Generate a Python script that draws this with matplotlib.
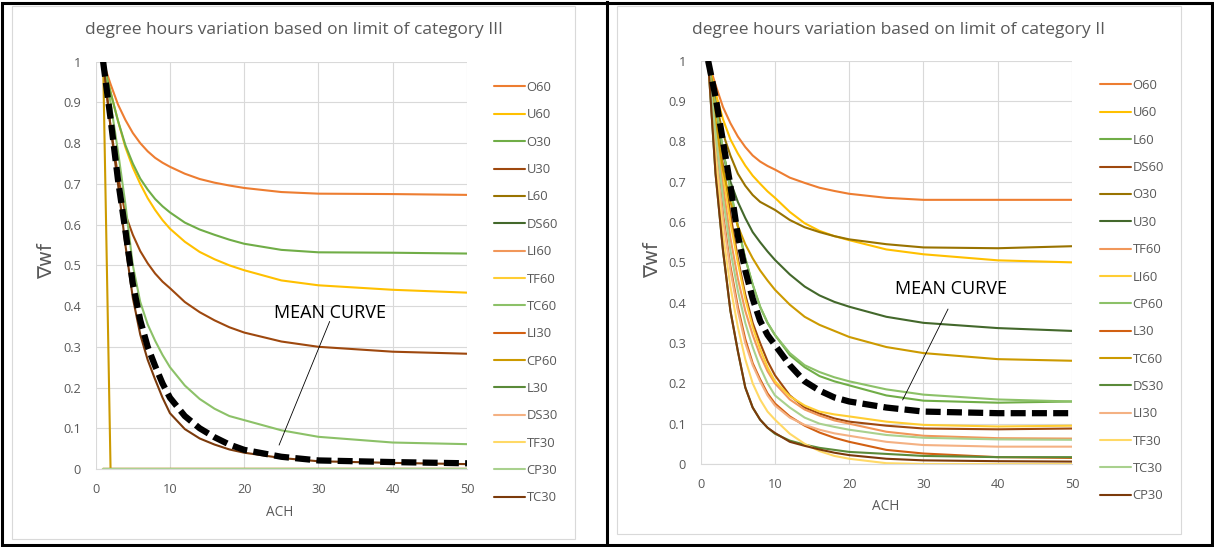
import matplotlib
matplotlib.use("Agg")
import matplotlib.pyplot as plt
from matplotlib.patches import Rectangle

plt.rcParams['font.family'] = ['Open Sans', 'DejaVu Sans']

W, H = 1214, 547

# ACH values where the weighting factor was evaluated
ach = [1, 2, 3, 4, 5, 6, 7, 8, 9, 10, 12, 14, 16, 18, 20, 25, 30, 40, 50]

# series colours, same order in both charts
colors = ["#ED7D31", "#FFC000", "#70AD47", "#9E480E", "#997300", "#43682B",
          "#F1975A", "#FFCD33", "#8CC168", "#D26012", "#CC9A00", "#5A8A39",
          "#F4B183", "#FFD966", "#A9D18E", "#7B3A0B"]

# ---- category III ----
c3_names = ["O60", "U60", "O30", "U30", "L60", "DS60", "LI60", "TF60",
            "TC60", "LI30", "CP60", "L30", "DS30", "TF30", "CP30", "TC30"]
c3_o60 = [1.0, 0.945, 0.895, 0.857, 0.825, 0.80, 0.78, 0.764, 0.752, 0.742,
          0.725, 0.712, 0.703, 0.696, 0.69, 0.68, 0.676, 0.675, 0.673]
c3_u60 = [1.0, 0.925, 0.855, 0.79, 0.74, 0.70, 0.665, 0.636, 0.611, 0.59,
          0.558, 0.533, 0.515, 0.50, 0.488, 0.463, 0.451, 0.44, 0.433]
c3_o30 = [1.0, 0.925, 0.855, 0.795, 0.75, 0.713, 0.686, 0.663, 0.645, 0.63,
          0.605, 0.588, 0.575, 0.563, 0.553, 0.538, 0.532, 0.531, 0.529]
c3_u30 = [1.0, 0.84, 0.72, 0.625, 0.575, 0.535, 0.505, 0.48, 0.46, 0.444,
          0.41, 0.385, 0.365, 0.348, 0.335, 0.313, 0.30, 0.288, 0.283]
c3_tc60 = [1.0, 0.90, 0.78, 0.65, 0.50, 0.41, 0.355, 0.315, 0.28, 0.25,
           0.205, 0.172, 0.148, 0.13, 0.12, 0.095, 0.079, 0.065, 0.061]
c3_cp60 = [1.0, 0, 0, 0, 0, 0, 0, 0, 0, 0, 0, 0, 0, 0, 0, 0, 0, 0, 0]
c3_tc30 = [1.0, 0.84, 0.70, 0.55, 0.42, 0.33, 0.268, 0.22, 0.175, 0.137,
           0.098, 0.075, 0.06, 0.048, 0.04, 0.027, 0.019, 0.015, 0.012]
c3_zero = [0, 0, 0, 0, 0, 0, 0, 0, 0, 0, 0, 0, 0, 0, 0, 0, 0, 0, 0]
c3_mean = [1.0, 0.86, 0.71, 0.585, 0.455, 0.365, 0.30, 0.253, 0.21, 0.175,
           0.13, 0.10, 0.078, 0.06, 0.047, 0.03, 0.021, 0.017, 0.014]
c3_series = [c3_o60, c3_u60, c3_o30, c3_u30, c3_zero, c3_zero, c3_zero,
             c3_zero, c3_tc60, c3_zero, c3_cp60, c3_zero, c3_zero, c3_zero,
             c3_zero, c3_tc30]

# ---- category II ----
c2_names = ["O60", "U60", "L60", "DS60", "O30", "U30", "TF60", "LI60",
            "CP60", "L30", "TC60", "DS30", "LI30", "TF30", "TC30", "CP30"]
c2_o60 = [1.0, 0.94, 0.885, 0.845, 0.812, 0.786, 0.765, 0.75, 0.739, 0.73,
          0.71, 0.697, 0.685, 0.677, 0.67, 0.66, 0.655, 0.655, 0.655]
c2_u60 = [1.0, 0.92, 0.855, 0.805, 0.77, 0.74, 0.715, 0.695, 0.676, 0.66,
          0.625, 0.597, 0.578, 0.565, 0.555, 0.532, 0.52, 0.505, 0.50]
c2_l60 = [1.0, 0.89, 0.78, 0.68, 0.59, 0.51, 0.445, 0.39, 0.35, 0.32,
          0.27, 0.24, 0.218, 0.205, 0.195, 0.17, 0.157, 0.152, 0.155]
c2_ds60 = [1.0, 0.87, 0.74, 0.62, 0.51, 0.42, 0.35, 0.30, 0.255, 0.22,
           0.17, 0.14, 0.125, 0.113, 0.105, 0.095, 0.088, 0.086, 0.088]
c2_o30 = [1.0, 0.90, 0.82, 0.765, 0.72, 0.69, 0.667, 0.65, 0.64, 0.63,
          0.605, 0.587, 0.575, 0.565, 0.557, 0.545, 0.537, 0.535, 0.54]
c2_u30 = [1.0, 0.88, 0.77, 0.70, 0.65, 0.61, 0.575, 0.55, 0.527, 0.506,
          0.47, 0.44, 0.418, 0.402, 0.39, 0.365, 0.35, 0.337, 0.33]
c2_tf60 = [1.0, 0.84, 0.69, 0.56, 0.46, 0.38, 0.32, 0.27, 0.23, 0.20,
           0.16, 0.135, 0.12, 0.108, 0.10, 0.08, 0.07, 0.064, 0.063]
c2_li60 = [1.0, 0.86, 0.72, 0.60, 0.50, 0.41, 0.34, 0.285, 0.24, 0.205,
           0.168, 0.145, 0.13, 0.123, 0.118, 0.105, 0.097, 0.093, 0.095]
c2_cp60 = [1.0, 0.89, 0.78, 0.68, 0.59, 0.51, 0.445, 0.39, 0.35, 0.32,
           0.275, 0.245, 0.228, 0.215, 0.205, 0.185, 0.172, 0.16, 0.155]
c2_l30 = [1.0, 0.80, 0.62, 0.49, 0.39, 0.31, 0.25, 0.21, 0.175, 0.15,
          0.118, 0.095, 0.078, 0.065, 0.055, 0.035, 0.026, 0.017, 0.015]
c2_tc60 = [1.0, 0.85, 0.73, 0.65, 0.59, 0.545, 0.51, 0.48, 0.455, 0.432,
           0.395, 0.365, 0.345, 0.33, 0.315, 0.29, 0.275, 0.26, 0.256]
c2_ds30 = [1.0, 0.72, 0.53, 0.38, 0.28, 0.19, 0.14, 0.11, 0.09, 0.075,
           0.058, 0.048, 0.04, 0.035, 0.03, 0.025, 0.02, 0.017, 0.017]
c2_li30 = [1.0, 0.78, 0.61, 0.48, 0.38, 0.30, 0.245, 0.205, 0.17, 0.145,
           0.115, 0.097, 0.085, 0.076, 0.07, 0.055, 0.047, 0.043, 0.043]
c2_tf30 = [1.0, 0.76, 0.57, 0.44, 0.34, 0.26, 0.20, 0.16, 0.13, 0.11,
           0.075, 0.05, 0.032, 0.02, 0.013, 0.002, 0.0, 0.0, 0.0]
c2_tc30 = [1.0, 0.82, 0.66, 0.53, 0.43, 0.35, 0.29, 0.24, 0.20, 0.17,
           0.14, 0.115, 0.10, 0.092, 0.085, 0.072, 0.065, 0.061, 0.06]
c2_cp30 = [1.0, 0.72, 0.53, 0.38, 0.28, 0.19, 0.14, 0.11, 0.09, 0.077,
           0.055, 0.045, 0.036, 0.028, 0.022, 0.013, 0.009, 0.007, 0.006]
c2_mean = [1.0, 0.91, 0.80, 0.69, 0.567, 0.48, 0.41, 0.355, 0.32, 0.295,
           0.245, 0.205, 0.182, 0.165, 0.155, 0.14, 0.13, 0.126, 0.126]
c2_series = [c2_o60, c2_u60, c2_l60, c2_ds60, c2_o30, c2_u30, c2_tf60,
             c2_li60, c2_cp60, c2_l30, c2_tc60, c2_ds30, c2_li30, c2_tf30,
             c2_tc30, c2_cp30]

grey = "#595959"


def fx(px):
    return px / W


def fy(py):
    return 1 - py / H


def draw_panel(ax, names, series, mean, title, box, legend_xy, title_xy,
               ylab_xy, xlab_xy, note_xy, arrow):
    for name, ys, col in zip(names, series, colors):
        ax.plot(ach, ys, color=col, lw=1.5, label=name, solid_capstyle='round')
    ax.plot(ach, mean, color="black", lw=4.5, linestyle=(0, (2.4, 1.0)),
            zorder=5)

    ax.set_xlim(0, 50)
    ax.set_ylim(0, 1)
    ax.set_xticks([0, 10, 20, 30, 40, 50])
    ax.set_yticks([i / 10 for i in range(11)])
    ax.set_yticklabels(["0", "0.1", "0.2", "0.3", "0.4", "0.5", "0.6", "0.7",
                        "0.8", "0.9", "1"])
    ax.tick_params(length=0, labelsize=9.2, colors=grey)
    ax.tick_params(axis='x', pad=10)
    ax.tick_params(axis='y', pad=10.5)
    ax.grid(True, color="#d9d9d9", lw=0.8)
    ax.set_axisbelow(True)
    for side in ["left", "right", "top"]:
        ax.spines[side].set_visible(False)
    ax.spines["bottom"].set_color("#d9d9d9")
    ax.spines["bottom"].set_linewidth(0.8)

    # pointer to the mean curve
    ax.text(note_xy[0], note_xy[1], "MEAN CURVE", fontsize=13,
            ha='center', va='center', color="black")
    ax.plot([arrow[0], arrow[2]], [arrow[1], arrow[3]], color="black",
            lw=0.6, zorder=6)

    leg = ax.legend(loc='upper left', bbox_to_anchor=(fx(legend_xy[0]), fy(legend_xy[1])),
                    bbox_transform=fig.transFigure, frameon=False,
                    fontsize=9.4, handlelength=2.35, handletextpad=0.15,
                    labelspacing=1.1, borderpad=0, borderaxespad=0)
    for t in leg.get_texts():
        t.set_color(grey)

    fig.text(fx(title_xy[0]), fy(title_xy[1]), title, ha='center',
             va='center', fontsize=12.5, color=grey)
    fig.text(fx(ylab_xy[0]), fy(ylab_xy[1]), "∇wf", rotation=90,
             ha='center', va='center', fontsize=14, color=grey,
             family=['DejaVu Sans'])
    fig.text(fx(xlab_xy[0]), fy(xlab_xy[1]), "ACH", ha='center',
             va='center', fontsize=9.8, color=grey)

    # light chart-area frame
    x0, y0, x1, y1 = box
    fig.patches.append(Rectangle((fx(x0), fy(y1)), fx(x1 - x0), (y1 - y0) / H,
                                 transform=fig.transFigure, fill=False,
                                 edgecolor="#d9d9d9", lw=0.8))


fig = plt.figure(figsize=(W / 100, H / 100), dpi=100)

ax1 = fig.add_axes([fx(95.7), fy(469), fx(467 - 95.7), (469 - 61.7) / H])
ax2 = fig.add_axes([fx(700.7), fy(464), fx(1072 - 700.7), (464 - 60.7) / H])

draw_panel(ax1, c3_names, c3_series, c3_mean,
           "degree hours variation based on limit of category III",
           (12, 6, 575, 539), (494, 81), (293.5, 30), (47, 261), (280, 512),
           (31.5, 0.383), (31.5, 0.362, 24.7, 0.059))
draw_panel(ax2, c2_names, c2_series, c2_mean,
           "degree hours variation based on limit of category II",
           (617, 6, 1181, 534), (1100, 79), (899, 30), (653, 260), (886, 507),
           (33.75, 0.434), (33.3, 0.384, 27.2, 0.159))

# black outer frame with a divider between the two charts
fig.patches.append(Rectangle((fx(2), fy(545)), fx(1210), 542 / H,
                             transform=fig.transFigure, fill=False,
                             edgecolor="black", lw=2.2))
fig.add_artist(plt.Line2D([fx(607), fx(607)], [fy(545), fy(2)],
                          transform=fig.transFigure, color="black", lw=2.2))

fig.savefig("out.png", dpi=100)
